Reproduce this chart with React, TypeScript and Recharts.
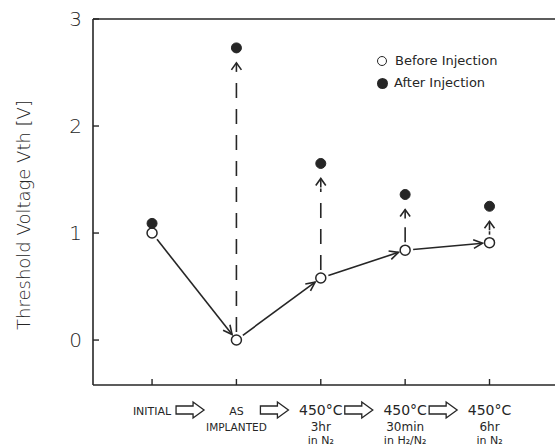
import React from 'react';
import { ComposedChart, Line, XAxis, YAxis, ReferenceLine } from 'recharts';

// process steps (x positions 0..4)
const steps = [0, 1, 2, 3, 4];
const stepLabels: string[][] = [
  ['INITIAL'],
  ['AS', 'IMPLANTED'],
  ['450°C', '3hr', 'in N₂'],
  ['450°C', '30min', 'in H₂/N₂'],
  ['450°C', '6hr', 'in N₂'],
];
const beforeVth = [1.0, 0.0, 0.58, 0.84, 0.91];
const afterVth = [1.09, 2.73, 1.65, 1.36, 1.25];
const yTicks = [0, 1, 2, 3];

const INK = '#262626';
const FONT = '"DejaVu Sans", sans-serif';

const data = steps.map((s, i) => ({ step: s, before: beforeVth[i], after: afterVth[i] }));

const ArrowSeg = (p: any) => {
  const { x1, y1, x2, y2 } = p;
  const dx = x2 - x1;
  const dy = y2 - y1;
  const len = Math.hypot(dx, dy);
  const ux = dx / len;
  const uy = dy / len;
  const sx = x1 + ux * 8;
  const sy = y1 + uy * 8;
  const ex = x2 - ux * 7;
  const ey = y2 - uy * 7;
  const a = Math.atan2(uy, ux);
  const h = 10;
  const w = 0.45;
  return (
    <g stroke={INK} strokeWidth={1.6} fill="none">
      <line x1={sx} y1={sy} x2={ex} y2={ey} />
      <polyline
        points={`${ex - h * Math.cos(a - w)},${ey - h * Math.sin(a - w)} ${ex},${ey} ${ex - h * Math.cos(a + w)},${ey - h * Math.sin(a + w)}`}
      />
    </g>
  );
};

const DashArrow = (p: any) => {
  const { x1, y1, y2 } = p;
  const len = Math.abs(y1 - y2);
  if (len < 25) return <g />;
  const tip = y2 + 15;
  return (
    <g stroke={INK} strokeWidth={1.6} fill="none">
      <line x1={x1} y1={y1 - 8} x2={x1} y2={tip + 10} strokeDasharray="15 11" />
      <line x1={x1} y1={tip + 9} x2={x1} y2={tip} />
      <polyline points={`${x1 - 5},${tip + 7} ${x1},${tip} ${x1 + 5},${tip + 7}`} />
    </g>
  );
};

const XTick = (p: any) => {
  const { x, y, payload } = p;
  const i = payload.value as number;
  const lines = stepLabels[i] || [];
  const sizes = i === 0 || i === 1 ? [11, 10.5, 11] : [14, 12, 11];
  const rows = [y + 30, y + 46, y + 59];
  const mx = x + 38;
  const cy = y + 25;
  return (
    <g>
      <line x1={x} y1={y} x2={x} y2={y - 6} stroke={INK} strokeWidth={1.4} />
      {lines.map((t, k) => (
        <text key={k} x={x} y={rows[k]} textAnchor="middle" fontSize={sizes[k]} fontFamily={FONT} fill={INK}>
          {t}
        </text>
      ))}
      {i < steps.length - 1 && (
        <path
          d={`M${mx - 14},${cy - 4} H${mx + 3} V${cy - 8} L${mx + 14},${cy} L${mx + 3},${cy + 8} V${cy + 4} H${mx - 14} Z`}
          fill="none"
          stroke={INK}
          strokeWidth={1.3}
        />
      )}
    </g>
  );
};

const YTickLeft = (p: any) => {
  const { x, y, payload } = p;
  return (
    <g>
      <line x1={x} y1={y} x2={x + 6} y2={y} stroke={INK} strokeWidth={1.4} />
      <text x={x - 11} y={y + 7} textAnchor="end" fontSize={20} fontFamily={FONT} fontWeight={200} fill={INK}>
        {payload.value}
      </text>
    </g>
  );
};

const YTickRight = (p: any) => {
  const { x, y } = p;
  return <line x1={x} y1={y} x2={x - 6} y2={y} stroke={INK} strokeWidth={1.4} />;
};

const LegendBox = () => (
  <div
    style={{
      position: 'absolute',
      left: 377,
      top: 50,
      fontFamily: FONT,
      fontSize: 13,
      color: INK,
      lineHeight: '22px',
    }}
  >
    <div style={{ display: 'flex', alignItems: 'center' }}>
      <span style={{ width: 8, height: 8, borderRadius: 6, border: `1.5px solid ${INK}`, marginRight: 8, background: '#fff' }} />
      Before Injection
    </div>
    <div style={{ display: 'flex', alignItems: 'center' }}>
      <span style={{ width: 11, height: 11, borderRadius: 6, background: INK, marginRight: 6 }} />
      After Injection
    </div>
  </div>
);

export default function App() {
  return (
    <div style={{ position: 'absolute', left: 0, top: 0, width: 555, height: 448, overflow: 'hidden', background: '#fff' }}>
      <ComposedChart width={600} height={448} data={data} margin={{ top: 19, right: 43, bottom: 0, left: 0 }}>
        <XAxis
          dataKey="step"
          type="number"
          domain={[-0.7, 4.8]}
          ticks={steps}
          interval={0}
          height={63}
          tickSize={0}
          tickMargin={0}
          tickLine={false}
          axisLine={{ stroke: INK, strokeWidth: 1.6 }}
          tick={<XTick />}
          allowDataOverflow
        />
        <YAxis
          yAxisId={0}
          type="number"
          domain={[-0.42, 3]}
          ticks={yTicks}
          width={93}
          tickSize={0}
          tickMargin={0}
          tickLine={false}
          axisLine={{ stroke: INK, strokeWidth: 1.6 }}
          tick={<YTickLeft />}
          allowDataOverflow
          label={() => (
            <text
              x={23}
              y={215}
              transform="rotate(-90 23 215)"
              textAnchor="middle"
              dominantBaseline="central"
              fontSize={18}
              fontFamily={FONT}
              fontWeight={200}
              fill={INK}
            >
              Threshold Voltage Vth [V]
            </text>
          )}
        />
        <YAxis
          yAxisId="r"
          orientation="right"
          type="number"
          domain={[-0.42, 3]}
          ticks={yTicks}
          width={0}
          tickSize={0}
          tickMargin={0}
          tickLine={false}
          axisLine={{ stroke: INK, strokeWidth: 1.6 }}
          tick={<YTickRight />}
          allowDataOverflow
        />
        <ReferenceLine y={3} stroke={INK} strokeWidth={1.6} ifOverflow="extendDomain" />

        {steps.slice(0, -1).map((s, i) => (
          <ReferenceLine
            key={`a${i}`}
            segment={[
              { x: s, y: beforeVth[i] },
              { x: steps[i + 1], y: beforeVth[i + 1] },
            ]}
            shape={ArrowSeg}
          />
        ))}
        {steps.map((s, i) => (
          <ReferenceLine
            key={`d${i}`}
            segment={[
              { x: s, y: beforeVth[i] },
              { x: s, y: afterVth[i] },
            ]}
            shape={DashArrow}
          />
        ))}

        <Line
          dataKey="before"
          stroke="none"
          isAnimationActive={false}
          dot={{ r: 5, fill: '#fff', stroke: INK, strokeWidth: 1.5 }}
          activeDot={false}
        />
        <Line
          dataKey="after"
          stroke="none"
          isAnimationActive={false}
          dot={{ r: 5, fill: INK, stroke: INK, strokeWidth: 1 }}
          activeDot={false}
        />
      </ComposedChart>
      <LegendBox />
    </div>
  );
}
